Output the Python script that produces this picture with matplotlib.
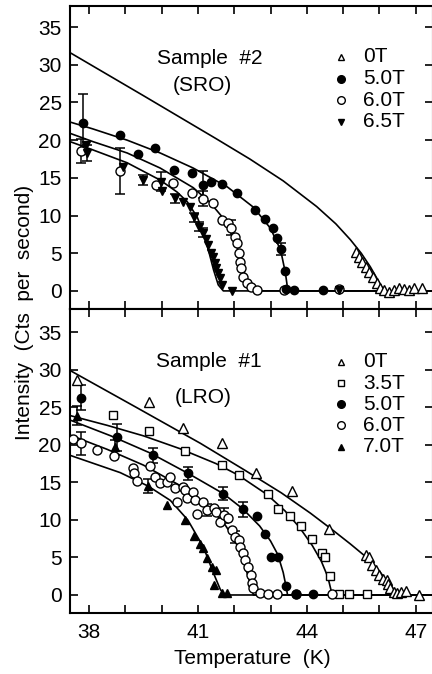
import matplotlib
matplotlib.use('Agg')
import matplotlib.pyplot as plt
from matplotlib.ticker import FixedLocator, FixedFormatter

plt.rcParams['font.family'] = ['Liberation Sans', 'DejaVu Sans']

# ---------------- Sample #2 (SRO) : top panel ----------------
T2_0T = [45.35, 45.43, 45.53, 45.62, 45.71, 45.83, 45.94, 46.03, 46.12, 46.26, 46.40, 46.54, 46.67, 46.81, 46.95, 47.17]
I2_0T = [5.2, 4.5, 3.8, 3.2, 2.5, 1.9, 1.1, 0.4, 0.1, -0.1, 0.1, 0.4, 0.3, 0.1, 0.4, 0.4]

T2_5T = [37.83, 38.86, 39.35, 39.82, 40.35, 40.84, 41.15, 41.37, 41.65, 42.09, 42.56, 42.86, 43.06, 43.17, 43.28, 43.39, 43.44, 43.64, 44.46]
I2_5T = [22.3, 20.7, 18.2, 19.0, 16.0, 15.6, 14.1, 14.5, 14.2, 13.0, 10.7, 9.5, 8.4, 7.0, 5.5, 2.7, 0.3, 0.1, 0.1]

T2_6T = [37.78, 38.86, 39.85, 40.32, 40.84, 41.15, 41.42, 41.67, 41.84, 41.92, 42.03, 42.09, 42.12, 42.17, 42.20, 42.25, 42.34, 42.45, 42.64, 43.36, 44.88]
I2_6T = [18.6, 15.9, 14.1, 14.3, 13.0, 12.2, 11.7, 9.4, 9.0, 8.4, 7.2, 6.4, 5.0, 3.9, 3.0, 1.9, 1.0, 0.5, 0.1, 0.1, 0.2]

T2_65T = [37.92, 37.95, 38.94, 39.50, 39.99, 40.00, 40.38, 40.60, 40.79, 40.90, 41.04, 41.15, 41.23, 41.29, 41.37, 41.42, 41.46, 41.50, 41.56, 41.60, 41.65, 41.95, 44.88]
I2_65T = [19.4, 18.3, 16.4, 14.7, 14.5, 13.2, 12.3, 11.8, 11.1, 9.8, 8.5, 7.7, 6.9, 6.1, 5.0, 4.5, 3.7, 3.0, 2.4, 1.7, 0.8, 0.0, 0.1]

# error bars (T, I, +/-)
E2_5T_T = [37.83, 41.15, 43.28]
E2_5T_I = [22.3, 14.1, 5.5]
E2_5T_E = [3.8, 1.8, 0.8]
E2_6T_T = [37.78, 38.86, 41.15, 41.92]
E2_6T_I = [18.6, 15.9, 12.2, 8.4]
E2_6T_E = [1.6, 3.1, 1.0, 1.0]
E2_65T_T = [37.95, 39.50, 39.99, 40.38, 40.90, 41.04, 41.15]
E2_65T_I = [18.3, 14.7, 14.5, 12.3, 9.8, 8.5, 7.7]
E2_65T_E = [1.0, 0.7, 1.3, 0.6, 0.6, 0.6, 0.6]

# fit curves
F2_0T_T = [37.48, 39.50, 41.50, 42.43, 43.35, 44.27, 44.80, 45.20, 45.50, 45.75, 46.00, 46.12, 47.50]
F2_0T_I = [31.6, 25.9, 20.2, 17.5, 14.6, 11.2, 8.9, 6.8, 5.0, 3.2, 1.1, 0.0, 0.0]
F2_5T_T = [37.48, 38.10, 39.05, 39.96, 40.87, 41.81, 42.53, 43.00, 43.28, 43.41, 43.48, 47.50]
F2_5T_I = [22.4, 21.5, 20.0, 18.3, 16.3, 13.8, 11.1, 8.3, 5.4, 2.4, 0.0, 0.0]
F2_6T_T = [37.48, 38.11, 39.05, 39.96, 40.87, 41.34, 41.81, 41.98, 42.17, 42.31, 42.45, 47.50]
F2_6T_I = [20.9, 19.8, 18.3, 16.3, 13.7, 11.7, 9.0, 7.2, 4.5, 1.9, 0.0, 0.0]
F2_65T_T = [37.48, 38.11, 39.05, 39.96, 40.43, 40.71, 40.98, 41.15, 41.29, 41.43, 41.56, 41.70, 47.50]
F2_65T_I = [19.8, 18.7, 17.0, 14.7, 13.1, 11.8, 9.8, 7.7, 5.4, 2.8, 0.8, 0.0, 0.0]

# ---------------- Sample #1 (LRO) : bottom panel ----------------
T1_0T = [37.67, 39.66, 40.60, 41.65, 42.61, 43.60, 44.60, 45.62, 45.71, 45.80, 45.90, 45.98, 46.09, 46.20, 46.23, 46.29, 46.40, 46.48, 46.59, 46.73, 47.09]
I1_0T = [28.6, 25.7, 22.2, 20.2, 16.2, 13.8, 8.8, 5.3, 5.1, 4.0, 3.3, 2.7, 2.1, 2.0, 1.5, 0.9, 0.4, 0.3, 0.4, 0.5, 0.0]

T1_35T = [38.67, 39.66, 40.65, 41.65, 42.12, 42.93, 43.20, 43.55, 43.85, 44.15, 44.43, 44.50, 44.64, 44.90, 45.15, 45.65]
I1_35T = [24.0, 21.8, 19.2, 17.3, 16.0, 13.5, 11.4, 10.5, 9.2, 7.4, 5.6, 5.0, 2.5, 0.1, 0.1, 0.1]

T1_5T = [37.78, 38.77, 39.77, 40.73, 41.70, 42.23, 42.64, 42.86, 43.00, 43.22, 43.44, 43.69, 44.16]
I1_5T = [26.3, 21.0, 18.6, 16.2, 13.5, 11.4, 10.5, 8.1, 5.1, 5.1, 1.2, 0.1, 0.1]

T1_6T = [37.55, 37.78, 38.22, 38.69, 39.22, 39.24, 39.33, 39.69, 39.82, 39.96, 40.15, 40.24, 40.38, 40.43,
         40.60, 40.65, 40.71, 40.87, 40.93, 40.98, 41.15, 41.26, 41.43, 41.50, 41.62, 41.73, 41.84, 41.95,
         42.03, 42.12, 42.17, 42.23, 42.31, 42.39, 42.45, 42.50, 42.53, 42.70, 42.92, 43.17, 43.69, 44.69]
I1_6T = [20.8, 20.2, 19.3, 18.5, 16.9, 16.2, 15.2, 17.2, 15.7, 14.9, 15.0, 15.7, 14.2, 12.4,
         14.4, 14.0, 12.9, 13.7, 12.6, 10.8, 12.4, 11.3, 11.6, 11.0, 9.7, 10.6, 10.2, 8.6,
         7.7, 7.3, 6.4, 5.6, 4.7, 3.7, 2.7, 1.6, 0.9, 0.3, 0.1, 0.1, 0.1, 0.1]

T1_7T = [37.67, 38.72, 39.63, 40.15, 40.65, 40.90, 41.05, 41.15, 41.26, 41.40, 41.50, 41.45, 41.67, 41.81]
I1_7T = [23.9, 19.7, 14.5, 12.0, 10.0, 7.8, 6.8, 6.2, 4.9, 3.7, 3.3, 1.3, 0.3, 0.3]

E1_5T_T = [37.78, 38.77, 39.77, 40.73, 41.70, 42.23]
E1_5T_I = [26.3, 21.0, 18.6, 16.2, 13.5, 11.4]
E1_5T_E = [1.7, 1.8, 1.0, 0.9, 0.9, 1.0]
E1_6T_T = [37.78, 41.26, 41.73, 42.03]
E1_6T_I = [20.2, 11.3, 10.6, 7.7]
E1_6T_E = [1.5, 0.8, 1.0, 0.8]
E1_7T_T = [37.67, 38.72, 39.63]
E1_7T_I = [23.9, 19.7, 14.5]
E1_7T_E = [1.3, 1.0, 0.9]

F1_0T_T = [37.48, 39.30, 41.07, 42.30, 43.30, 44.10, 44.70, 45.20, 45.60, 46.00, 46.30, 46.45, 47.50]
F1_0T_I = [29.9, 25.0, 20.2, 16.6, 13.6, 10.9, 8.7, 6.8, 5.2, 3.2, 1.2, 0.0, 0.0]
F1_35T_T = [37.48, 38.50, 39.50, 40.50, 41.50, 42.10, 42.90, 43.40, 43.80, 44.15, 44.40, 44.58, 44.66, 44.70, 47.50]
F1_35T_I = [23.9, 22.6, 21.2, 19.5, 17.5, 16.0, 13.4, 11.2, 9.0, 6.6, 4.5, 2.4, 0.8, 0.0, 0.0]
F1_5T_T = [37.48, 38.60, 39.69, 40.73, 41.70, 42.23, 42.70, 43.00, 43.20, 43.35, 43.43, 43.47, 47.50]
F1_5T_I = [23.3, 21.2, 18.9, 16.2, 13.5, 11.5, 9.2, 7.2, 5.4, 3.0, 1.1, 0.0, 0.0]
F1_6T_T = [37.48, 38.50, 39.50, 40.50, 41.20, 41.70, 42.00, 42.20, 42.35, 42.47, 42.53, 47.50]
F1_6T_I = [21.3, 19.4, 17.3, 14.6, 12.2, 9.7, 7.5, 5.3, 3.0, 1.1, 0.0, 0.0]
F1_7T_T = [37.48, 38.86, 39.63, 40.24, 40.72, 41.15, 41.43, 41.62, 41.75, 47.50]
F1_7T_I = [18.6, 16.3, 14.5, 12.6, 10.0, 6.4, 2.9, 0.7, 0.0, 0.0]

x_ticks = [38, 39, 40, 41, 42, 43, 44, 45, 46, 47]
x_ticklabels = ['38', '', '', '41', '', '', '44', '', '', '47']
y_ticks = [0, 5, 10, 15, 20, 25, 30, 35]

legend_top = ['0T', '5.0T', '6.0T', '6.5T']
legend_bot = ['0T', '3.5T', '5.0T', '6.0T', '7.0T']

# ---------------- figure ----------------
W, H = 432, 674
fig = plt.figure(figsize=(W / 100, H / 100), dpi=100)
ax_top = fig.add_axes([70 / W, (H - 309) / H, 362.9 / W, 303 / H])
ax_bot = fig.add_axes([70 / W, (H - 613) / H, 362.9 / W, 304 / H])

FS = 15


def style(ax, ylim, show_x):
    ax.set_xlim(37.475, 47.475)
    ax.set_ylim(*ylim)
    ax.xaxis.set_major_locator(FixedLocator(x_ticks))
    ax.xaxis.set_major_formatter(FixedFormatter(x_ticklabels))
    ax.yaxis.set_major_locator(FixedLocator(y_ticks))
    ax.tick_params(direction='in', top=True, right=True, length=6, width=1.2,
                   labelsize=FS, pad=6)
    ax.tick_params(axis='x', labelbottom=show_x, pad=7)
    for s in ax.spines.values():
        s.set_linewidth(1.5)


style(ax_top, (-2.4, 37.8), False)
style(ax_bot, (-2.4, 38.1), True)

MEW = 1.0


def curve(ax, T, I):
    ax.plot(T, I, color='black', lw=1.2, zorder=2)


def errs(ax, T, I, E):
    ax.errorbar(T, I, yerr=E, fmt='none', ecolor='black', elinewidth=1.1,
                capsize=3.5, capthick=1.1, zorder=3)


def pts(ax, T, I, marker, filled, ms):
    ax.plot(T, I, ls='none', marker=marker, ms=ms,
            mfc='black' if filled else 'white', mec='black', mew=MEW, zorder=4)


# top panel
for T, I in [(F2_0T_T, F2_0T_I), (F2_5T_T, F2_5T_I), (F2_6T_T, F2_6T_I), (F2_65T_T, F2_65T_I)]:
    curve(ax_top, T, I)
errs(ax_top, E2_5T_T, E2_5T_I, E2_5T_E)
errs(ax_top, E2_6T_T, E2_6T_I, E2_6T_E)
errs(ax_top, E2_65T_T, E2_65T_I, E2_65T_E)
pts(ax_top, T2_0T, I2_0T, '^', False, 6.5)
pts(ax_top, T2_6T, I2_6T, 'o', False, 6.5)
pts(ax_top, T2_5T, I2_5T, 'o', True, 6)
pts(ax_top, T2_65T, I2_65T, 'v', True, 6)

# bottom panel
for T, I in [(F1_0T_T, F1_0T_I), (F1_35T_T, F1_35T_I), (F1_5T_T, F1_5T_I),
             (F1_6T_T, F1_6T_I), (F1_7T_T, F1_7T_I)]:
    curve(ax_bot, T, I)
errs(ax_bot, E1_5T_T, E1_5T_I, E1_5T_E)
errs(ax_bot, E1_6T_T, E1_6T_I, E1_6T_E)
errs(ax_bot, E1_7T_T, E1_7T_I, E1_7T_E)
pts(ax_bot, T1_0T, I1_0T, '^', False, 6.5)
pts(ax_bot, T1_35T, I1_35T, 's', False, 6)
pts(ax_bot, T1_6T, I1_6T, 'o', False, 6.5)
pts(ax_bot, T1_5T, I1_5T, 'o', True, 6)
pts(ax_bot, T1_7T, I1_7T, '^', True, 5.5)


# legends (drawn manually)
def legend(ax, labels, specs, y0, dy):
    for k, (lab, (m, f, ms)) in enumerate(zip(labels, specs)):
        y = y0 - k * dy
        ax.plot([0.747], [y], transform=ax.transAxes, ls='none', marker=m, ms=ms,
                mfc='black' if f else 'white', mec='black', mew=MEW, clip_on=False)
        ax.text(0.808, y, lab, transform=ax.transAxes, fontsize=FS, va='center', ha='left')


legend(ax_top, legend_top, [('^', False, 5), ('o', True, 5.5), ('o', False, 5.5), ('v', True, 4.5)],
       0.832, 0.0716)
legend(ax_bot, legend_bot, [('^', False, 5), ('s', False, 5), ('o', True, 5.5), ('o', False, 5.5), ('^', True, 4.5)],
       0.826, 0.0697)

ax_top.text(0.386, 0.828, 'Sample  #2', transform=ax_top.transAxes, fontsize=FS, ha='center', va='center')
ax_top.text(0.366, 0.739, '(SRO)', transform=ax_top.transAxes, fontsize=FS, ha='center', va='center')
ax_bot.text(0.383, 0.826, 'Sample  #1', transform=ax_bot.transAxes, fontsize=FS, ha='center', va='center')
ax_bot.text(0.366, 0.710, '(LRO)', transform=ax_bot.transAxes, fontsize=FS, ha='center', va='center')

fig.text(25 / W, 1 - 312 / H, 'Intensity  (Cts  per  second)', rotation=90, fontsize=FS,
         ha='center', va='center')
fig.text(252 / W, 1 - 658 / H, 'Temperature  (K)', fontsize=FS, ha='center', va='center')

fig.savefig('out.png', dpi=100)
